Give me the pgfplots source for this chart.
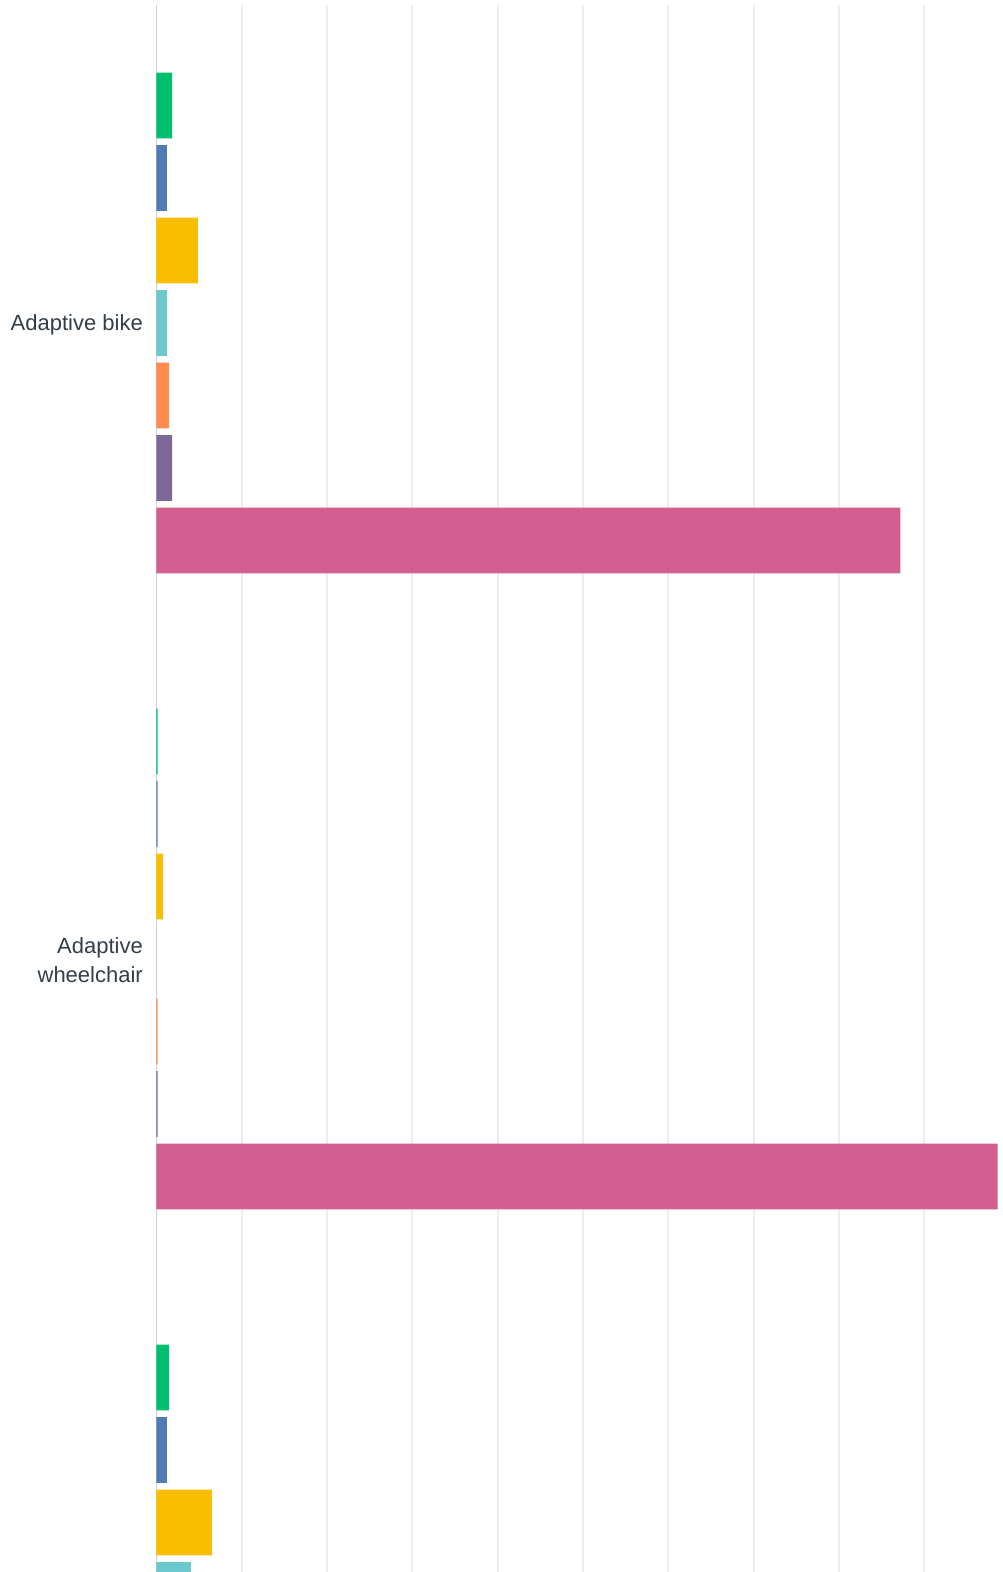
\documentclass[border=0pt]{standalone}
\usepackage{fontspec}
\setmainfont{Liberation Sans}
\usepackage{pgfplots}
\pgfplotsset{compat=1.18}

\definecolor{cgreen}{HTML}{00BF6F}
\definecolor{cblue}{HTML}{507CB6}
\definecolor{cyellow}{HTML}{F9BE00}
\definecolor{cteal}{HTML}{6BC8CD}
\definecolor{corange}{HTML}{FF8B4F}
\definecolor{cpurple}{HTML}{7F6699}
\definecolor{cpink}{HTML}{D25F90}
\definecolor{gridgray}{HTML}{EEEEEE}
\definecolor{axisgray}{HTML}{D0D0D0}
\definecolor{labeltext}{HTML}{333E48}

% bar geometry, in axis units (one group = 1)
\def\bw{0.1033}
\def\bp{0.1140}

\begin{document}
\begin{tikzpicture}
\useasboundingbox (-156.5pt,0pt) rectangle (846.5pt,1572pt);
\begin{axis}[
    scale only axis,
    width=846.5pt, height=1567pt,
    xmin=0, xmax=99.24,
    ymin=-0.5, ymax=1.9638,
    y dir=reverse,
    axis line style={draw=none},
    xtick={10,20,...,90},
    xticklabels={},
    xmajorgrids,
    major grid style={color=gridgray, line width=2pt},
    extra x ticks={0},
    extra x tick labels={},
    extra x tick style={grid=major, major grid style={color=axisgray, line width=1.6pt}},
    ytick={0,1,2},
    yticklabels={Adaptive bike, {Adaptive\\wheelchair}, {}},
    yticklabel style={align=right, inner sep=0pt, xshift=-13.5pt, yshift=-1.5pt,
        font=\fontsize{22}{29}\selectfont, text=labeltext},
    major tick length=0pt,
  ]
  \addplot[xbar, draw=none, fill=cgreen, bar width=\bw, bar shift=-3*\bp]
    coordinates {(1.82,0) (0.12,1) (1.47,2)};
  \addplot[xbar, draw=none, fill=cblue, bar width=\bw, bar shift=-2*\bp]
    coordinates {(1.23,0) (0.12,1) (1.23,2)};
  \addplot[xbar, draw=none, fill=cyellow, bar width=\bw, bar shift=-1*\bp]
    coordinates {(4.86,0) (0.76,1) (6.5,2)};
  \addplot[xbar, draw=none, fill=cteal, bar width=\bw, bar shift=0]
    coordinates {(1.23,0) (0,1) (4.04,2)};
  \addplot[xbar, draw=none, fill=corange, bar width=\bw, bar shift=1*\bp]
    coordinates {(1.47,0) (0.12,1) (1.5,2)};
  \addplot[xbar, draw=none, fill=cpurple, bar width=\bw, bar shift=2*\bp]
    coordinates {(1.82,0) (0.12,1) (1.5,2)};
  \addplot[xbar, draw=none, fill=cpink, bar width=\bw, bar shift=3*\bp]
    coordinates {(87.2,0) (98.6,1) (84,2)};
\end{axis}
\end{tikzpicture}
\end{document}
